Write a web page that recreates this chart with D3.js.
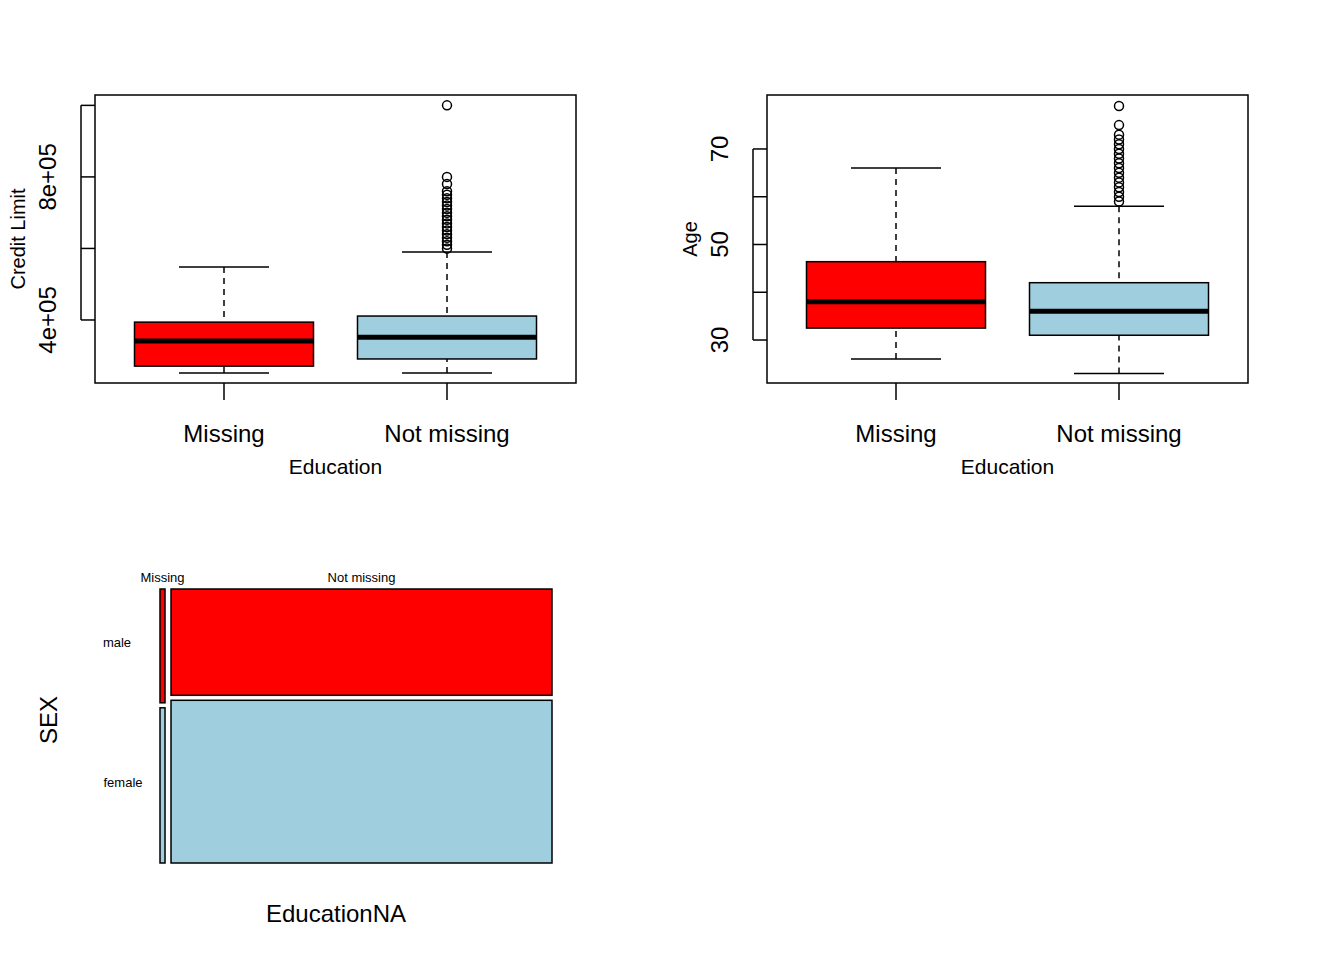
<!DOCTYPE html>
<html><head><meta charset="utf-8">
<script src="https://cdn.jsdelivr.net/npm/d3@7"></script>
<style>body{margin:0;background:#fff}text{font-family:"Liberation Sans",Arial,sans-serif}</style>
</head><body>
<svg id="c" width="1344" height="960"></svg>
<script>
// box stats: low whisker, Q1, median, Q3, high whisker
const groups = ["Missing", "Not missing"];
const limitStats = [[252000, 271000, 341000, 394000, 548000], [252000, 291000, 352000, 411000, 590000]];
const limitOutliers = [[], [600000, 610000, 620000, 630000, 640000, 650000, 660000, 670000, 680000, 690000, 700000, 710000, 720000, 730000, 740000, 750000, 760000, 780000, 800000, 1000000]];
const limitTicks = [400000, 600000, 800000, 1000000];
const ageStats = [[26, 32.5, 38, 46.4, 66], [23, 31, 36, 42, 58]];
const ageOutliers = [[], [59, 60, 61, 62, 63, 64, 65, 66, 67, 68, 69, 70, 71, 72, 73, 75, 79]];
const ageTicks = [30, 40, 50, 60, 70];
const sexes = ["male", "female"];
const mosaicCounts = [[165, 225], [11700, 17910]]; // [education][sex]
const colors = ["#ff0000", "#9fcfdf"];

const svg = d3.select("#c");

function fmt(v) {
  if (v >= 1000) { return (v / 1e5) + "e+05"; }
  return v;
}

function boxPlot(x0, x1, domain, stats, outliers, ticks, labelTicks, ytitle) {
  const top = 95, bottom = 383;
  const g = svg.append("g");
  const x = d3.scaleBand().domain(groups).range([x0, x1]).paddingInner(0.2457).paddingOuter(0.0833 / 0.9 * 1.0);
  const y = d3.scaleLinear().domain(domain).range([bottom, top]);
  const bw = 179;
  groups.forEach((gname, i) => {
    const s = stats[i];
    const cx = Math.round(x0 + 129 + i * 223);
    // whiskers
    g.append("line").attr("x1", cx).attr("x2", cx).attr("y1", y(s[0])).attr("y2", y(s[1])).attr("stroke", "#000").attr("stroke-width", 1.5).attr("stroke-dasharray", "6,5");
    g.append("line").attr("x1", cx).attr("x2", cx).attr("y1", y(s[4])).attr("y2", y(s[3])).attr("stroke", "#000").attr("stroke-width", 1.5).attr("stroke-dasharray", "6,5");
    [s[0], s[4]].forEach(v => {
      g.append("line").attr("x1", cx - 45).attr("x2", cx + 45).attr("y1", y(v)).attr("y2", y(v)).attr("stroke", "#000").attr("stroke-width", 1.5);
    });
    g.append("rect").attr("x", cx - bw / 2).attr("width", bw).attr("y", y(s[3])).attr("height", y(s[1]) - y(s[3]))
      .attr("fill", colors[i]).attr("stroke", "#000").attr("stroke-width", 1.5);
    g.append("line").attr("x1", cx - bw / 2).attr("x2", cx + bw / 2).attr("y1", y(s[2])).attr("y2", y(s[2])).attr("stroke", "#000").attr("stroke-width", 5);
    outliers[i].forEach(v => {
      g.append("circle").attr("cx", cx).attr("cy", y(v)).attr("r", 4.5).attr("fill", "none").attr("stroke", "#000").attr("stroke-width", 1.5);
    });
    g.append("line").attr("x1", cx).attr("x2", cx).attr("y1", bottom).attr("y2", bottom + 17).attr("stroke", "#000").attr("stroke-width", 1.5);
    g.append("text").attr("x", cx).attr("y", 442).attr("text-anchor", "middle").attr("font-size", 24).text(gname);
  });
  g.append("rect").attr("x", x0).attr("y", top).attr("width", x1 - x0).attr("height", bottom - top).attr("fill", "none").attr("stroke", "#000").attr("stroke-width", 1.5);
  // y axis
  const ax = x0 - 14;
  g.append("line").attr("x1", ax).attr("x2", ax).attr("y1", y(ticks[0])).attr("y2", y(ticks[ticks.length - 1])).attr("stroke", "#000").attr("stroke-width", 1.5);
  ticks.forEach(t => {
    g.append("line").attr("x1", ax).attr("x2", x0).attr("y1", y(t)).attr("y2", y(t)).attr("stroke", "#000").attr("stroke-width", 1.5);
  });
  labelTicks.forEach(t => {
    g.append("text").attr("transform", `translate(${x0 - 39},${y(t)}) rotate(-90)`).attr("text-anchor", "middle").attr("font-size", 24).text(fmt(t));
  });
  g.append("text").attr("transform", `translate(${x0 - 70},${(top + bottom) / 2}) rotate(-90)`).attr("text-anchor", "middle").attr("font-size", 20).text(ytitle);
  g.append("text").attr("x", (x0 + x1) / 2).attr("y", 474).attr("text-anchor", "middle").attr("font-size", 21).text("Education");
}

boxPlot(95, 576, [223800, 1029000], limitStats, limitOutliers, limitTicks, [400000, 800000], "Credit Limit");
boxPlot(767, 1248, [21, 81.3], ageStats, ageOutliers, ageTicks, [30, 50, 70], "Age");

// mosaic plot
const mx0 = 160, mx1 = 552, my0 = 589, my1 = 863, gap = 6;
const colTotals = mosaicCounts.map(r => d3.sum(r));
const total = d3.sum(colTotals);
const wx = d3.scaleLinear().domain([0, total]).range([0, mx1 - mx0 - gap]);
let cx = mx0;
const mg = svg.append("g");
groups.forEach((gname, i) => {
  const w = wx(colTotals[i]);
  const hy = d3.scaleLinear().domain([0, colTotals[i]]).range([0, my1 - my0 - 5]);
  let cy = my0;
  sexes.forEach((sx, j) => {
    const h = hy(mosaicCounts[i][j]);
    mg.append("rect").attr("x", cx).attr("y", cy).attr("width", w).attr("height", h)
      .attr("fill", colors[j]).attr("stroke", "#000").attr("stroke-width", 1.5);
    cy += h + 5;
  });
  mg.append("text").attr("x", cx + w / 2).attr("y", 582).attr("text-anchor", "middle").attr("font-size", 13).text(gname);
  cx += w + gap;
});
const hy0 = d3.scaleLinear().domain([0, colTotals[1]]).range([0, my1 - my0 - 5]);
mg.append("text").attr("x", 117).attr("y", my0 + hy0(mosaicCounts[1][0]) / 2 + 5).attr("text-anchor", "middle").attr("font-size", 13).text("male");
mg.append("text").attr("x", 123).attr("y", my0 + hy0(mosaicCounts[1][0]) + 5 + hy0(mosaicCounts[1][1]) / 2 + 5).attr("text-anchor", "middle").attr("font-size", 13).text("female");
mg.append("text").attr("transform", "translate(57,720) rotate(-90)").attr("text-anchor", "middle").attr("font-size", 24).text("SEX");
mg.append("text").attr("x", 336).attr("y", 922).attr("text-anchor", "middle").attr("font-size", 24).text("EducationNA");
</script>
</body></html>
